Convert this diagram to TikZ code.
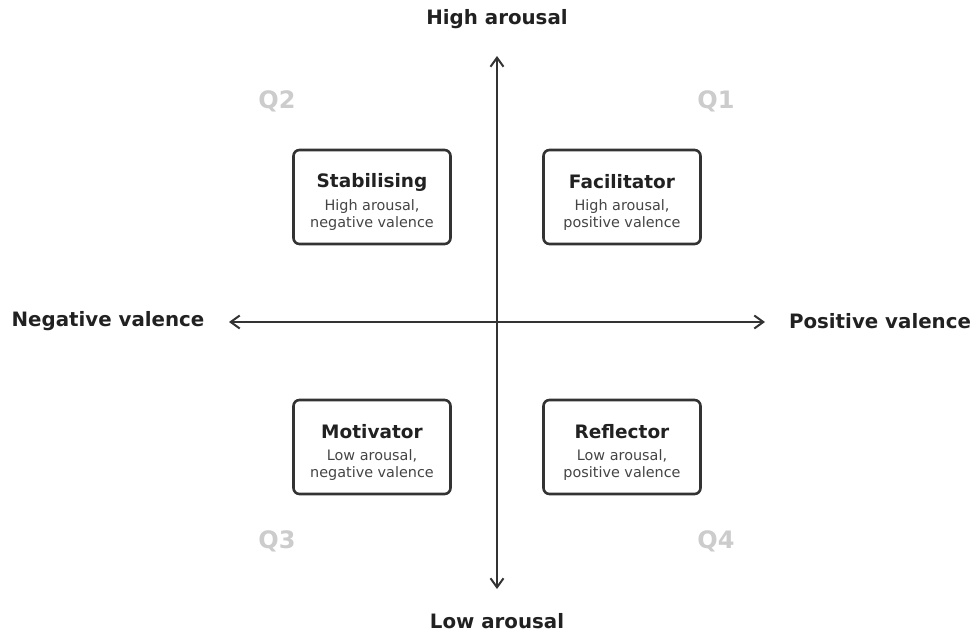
\documentclass[tikz,border=0pt]{standalone}
\usepackage{fontspec}
\setmainfont{DejaVu Sans}
\usepackage{tikz}
\usetikzlibrary{positioning, arrows.meta}
\definecolor{axisgray}{HTML}{333333}
\definecolor{qgray}{HTML}{CCCCCC}
\definecolor{subgray}{HTML}{444444}
\tikzset{quadbox/.style = {draw=axisgray,line width=2.6pt,rounded corners=6pt,minimum width=157pt,minimum height=94pt,inner sep=0pt},
    axislabel/.style = {font=\fontsize{19.8}{23}\selectfont\bfseries,text=black!87},
    qlabel/.style = {font=\fontsize{24}{28}\selectfont\bfseries,text=qgray},
    boxtitle/.style = {font=\fontsize{18.5}{22}\selectfont\bfseries,text=black!87},
    boxsub/.style = {font=\fontsize{14.4}{17}\selectfont,text=subgray,align=center}}

\begin{document}
\begin{tikzpicture}[x=1pt,y=-1pt]
                \useasboundingbox (0,0) rectangle (976,639);
                % axes
                \coordinate (top) at (497,56);
                \coordinate (bottom) at (497,589);
                \coordinate (left) at (229,322);
                \coordinate (right) at (765,322);
                \draw [axisgray,line width=2pt,{Straight Barb[length=9pt,width=13pt]}-{Straight Barb[length=9pt,width=13pt]}] (bottom) -- (top);
                \draw [axisgray,line width=2pt,{Straight Barb[length=9pt,width=13pt]}-{Straight Barb[length=9pt,width=13pt]}] (left) -- (right);
                \node [axislabel] (high) at (497,19) {High arousal};
                \node [axislabel] (low) at (497,621) {Low arousal};
                \node [axislabel] (neg) at (108,321) {Negative valence};
                \node [axislabel] (pos) at (880,321) {Positive valence};
                % quadrant names
                \foreach \q/\x/\y in {Q1/716/101, Q2/277/101, Q3/277/541, Q4/716/541} {
                    \node [qlabel] (\q) at (\x,\y) {\q};
                }
                % boxes
                \foreach \name/\x/\y/\title/\sub in {stab/372/197/Stabilising/{High arousal,\\negative valence},
                                                     fac/622/197/Facilitator/{High arousal,\\positive valence},
                                                     mot/372/447/Motivator/{Low arousal,\\negative valence},
                                                     refl/622/447/Reflector/{Low arousal,\\positive valence}} {
                    \node [quadbox] (\name) at (\x,\y) {};
                    \node [boxtitle] (\name-t) at ([yshift=15pt]\name.center) {\title};
                    \node [boxsub] (\name-s) at ([yshift=-18pt]\name.center) {\sub};
                }
            \end{tikzpicture}
\end{document}
